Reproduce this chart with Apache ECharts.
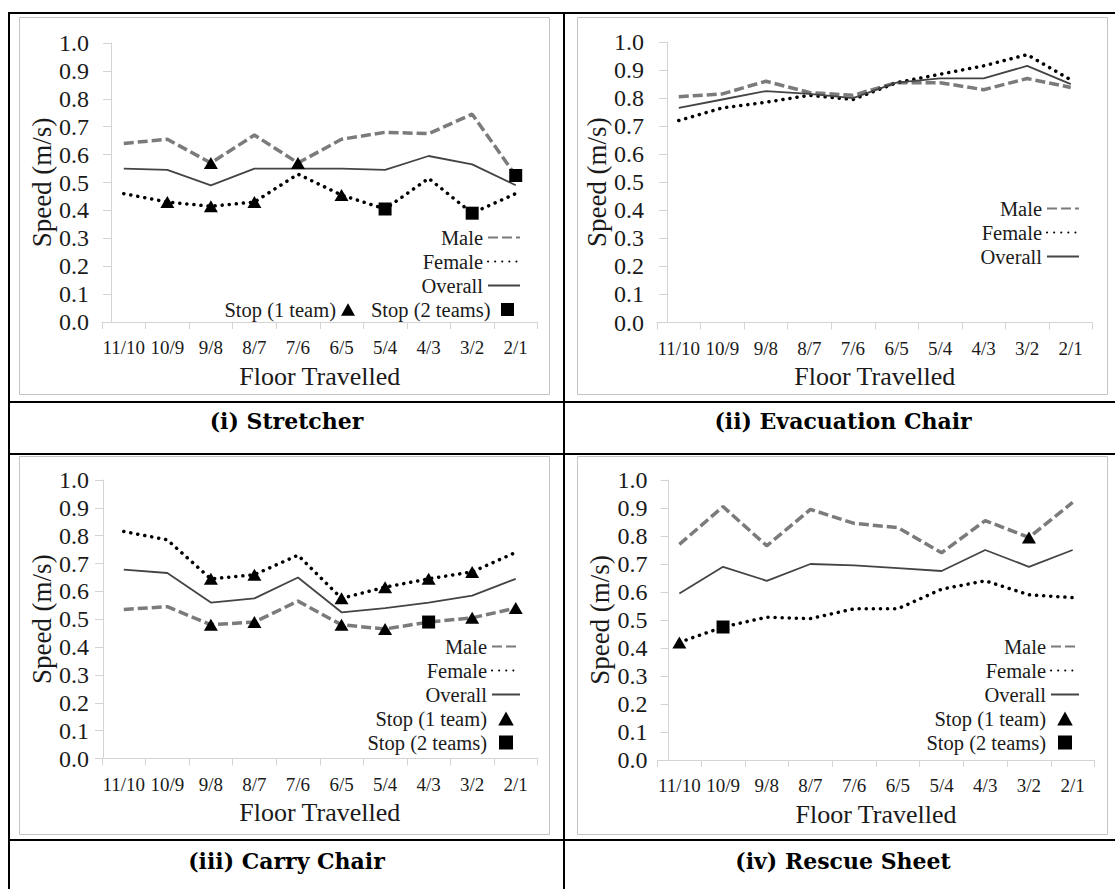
<!DOCTYPE html>
<html>
<head>
<meta charset="utf-8">
<title>Speed per floor travelled</title>
<script src="https://cdn.jsdelivr.net/npm/echarts@6.0.0/dist/echarts.min.js"></script>
<style>
  html, body { margin: 0; padding: 0; background: #fff; }
  #chart { width: 1115px; height: 889px; }
</style>
</head>
<body>
<div id="chart"></div>
<script>
// floors travelled (x categories)
const floors = ['11/10', '10/9', '9/8', '8/7', '7/6', '6/5', '5/4', '4/3', '3/2', '2/1'];

// (i) Stretcher
const stretcherMale = [0.64, 0.655, 0.57, 0.67, 0.57, 0.655, 0.68, 0.675, 0.745, 0.525];
const stretcherFemale = [0.46, 0.43, 0.415, 0.43, 0.53, 0.455, 0.405, 0.515, 0.39, 0.46];
const stretcherOverall = [0.55, 0.545, 0.49, 0.55, 0.55, 0.55, 0.545, 0.595, 0.565, 0.49];
const stretcherStop1 = [['9/8', 0.57], ['7/6', 0.57], ['10/9', 0.43], ['9/8', 0.415], ['8/7', 0.43], ['6/5', 0.455]];
const stretcherStop2 = [['5/4', 0.405], ['3/2', 0.39], ['2/1', 0.525]];

// (ii) Evacuation Chair
const evacMale = [0.805, 0.815, 0.86, 0.82, 0.81, 0.855, 0.855, 0.83, 0.87, 0.838];
const evacFemale = [0.72, 0.765, 0.785, 0.81, 0.795, 0.855, 0.885, 0.915, 0.955, 0.865];
const evacOverall = [0.765, 0.795, 0.825, 0.815, 0.8, 0.855, 0.87, 0.87, 0.915, 0.85];

// (iii) Carry Chair
const carryMale = [0.535, 0.545, 0.48, 0.49, 0.565, 0.48, 0.465, 0.49, 0.505, 0.54];
const carryFemale = [0.815, 0.785, 0.645, 0.66, 0.73, 0.575, 0.615, 0.645, 0.67, 0.74];
const carryOverall = [0.678, 0.666, 0.56, 0.575, 0.65, 0.525, 0.54, 0.56, 0.585, 0.645];
const carryStop1 = [['9/8', 0.645], ['8/7', 0.66], ['6/5', 0.575], ['5/4', 0.615], ['4/3', 0.645], ['3/2', 0.67],
                    ['9/8', 0.48], ['8/7', 0.49], ['6/5', 0.48], ['5/4', 0.465], ['3/2', 0.505], ['2/1', 0.54]];
const carryStop2 = [['4/3', 0.49]];

// (iv) Rescue Sheet
const rescueMale = [0.77, 0.905, 0.765, 0.895, 0.845, 0.83, 0.74, 0.855, 0.795, 0.92];
const rescueFemale = [0.42, 0.475, 0.51, 0.505, 0.54, 0.54, 0.61, 0.64, 0.59, 0.58];
const rescueOverall = [0.595, 0.69, 0.64, 0.7, 0.695, 0.685, 0.675, 0.75, 0.69, 0.75];
const rescueStop1 = [['11/10', 0.42], ['3/2', 0.795]];
const rescueStop2 = [['10/9', 0.475]];

const captions = ['(i) Stretcher', '(ii) Evacuation Chair', '(iii) Carry Chair', '(iv) Rescue Sheet'];

const serif = "'Liberation Serif', serif";
const txt = '#1a1a1a';
const axisGray = '#d4d4d4';
const triIcon = 'path://M5,0 L10,9 L0,9 Z';
const sqIcon = 'path://M0,0 L10,0 L10,10 L0,10 Z';

// plot rectangles of the four panels
const grids = [
  { left: 102, top: 43, width: 435.5, height: 279 },
  { left: 657, top: 42, width: 435.5, height: 280.5 },
  { left: 102, top: 480, width: 435.5, height: 278.5 },
  { left: 657.5, top: 480, width: 437, height: 280 }
];
// y axis shift inside the plot, label margin, title gap
const yLayout = [
  { offset: -9, margin: 22, gap: 52 },
  { offset: -10, margin: 23, gap: 53 },
  { offset: -1, margin: 14, gap: 44 },
  { offset: -11, margin: 21, gap: 53 }
];

const xAxes = grids.map((g, i) => ({
  gridIndex: i,
  type: 'category',
  data: floors,
  boundaryGap: true,
  axisLine: { show: true, lineStyle: { color: axisGray, width: 1 } },
  axisTick: { show: true, length: 7, alignWithLabel: false, lineStyle: { color: axisGray } },
  axisLabel: { interval: 0, fontSize: 19, fontFamily: serif, color: txt, margin: 16 },
  splitLine: { show: false },
  name: 'Floor Travelled',
  nameLocation: 'middle',
  nameGap: 41,
  nameTextStyle: { fontSize: 26, fontFamily: serif, color: txt }
}));

const yAxes = grids.map((g, i) => ({
  gridIndex: i,
  type: 'value',
  min: 0,
  max: 1,
  interval: 0.1,
  offset: yLayout[i].offset,
  axisLine: { show: true, lineStyle: { color: axisGray, width: 1 } },
  axisTick: { show: true, length: 8, lineStyle: { color: axisGray } },
  splitLine: { show: false },
  axisLabel: { formatter: v => v.toFixed(1), fontSize: 24, fontFamily: serif, color: txt, margin: yLayout[i].margin },
  name: 'Speed (m/s)',
  nameLocation: 'middle',
  nameRotate: 90,
  nameGap: yLayout[i].gap,
  nameTextStyle: { fontSize: 27, fontFamily: serif, color: txt }
}));

function lines(i, male, female, overall) {
  return [
    { name: 'Male', type: 'line', xAxisIndex: i, yAxisIndex: i, data: male, symbol: 'none', silent: true,
      lineStyle: { color: '#7b7b7b', width: 3.5, type: [10, 4] }, itemStyle: { color: '#7b7b7b' }, z: 2 },
    { name: 'Female', type: 'line', xAxisIndex: i, yAxisIndex: i, data: female, symbol: 'none', silent: true,
      lineStyle: { color: '#000', width: 3.5, type: [0.1, 7], cap: 'round' }, itemStyle: { color: '#000' }, z: 2 },
    { name: 'Overall', type: 'line', xAxisIndex: i, yAxisIndex: i, data: overall, symbol: 'none', silent: true,
      lineStyle: { color: '#444', width: 1.8 }, itemStyle: { color: '#444' }, z: 2 }
  ];
}
function stops(i, one, two) {
  return [
    { name: 'Stop (1 team)', type: 'scatter', xAxisIndex: i, yAxisIndex: i, data: one,
      symbol: 'triangle', symbolSize: [14, 12], itemStyle: { color: '#000', opacity: 1 }, z: 5 },
    { name: 'Stop (2 teams)', type: 'scatter', xAxisIndex: i, yAxisIndex: i, data: two,
      symbol: 'rect', symbolSize: 13, itemStyle: { color: '#000', opacity: 1 }, z: 5 }
  ];
}

const series = [].concat(
  lines(0, stretcherMale, stretcherFemale, stretcherOverall), stops(0, stretcherStop1, stretcherStop2),
  lines(1, evacMale, evacFemale, evacOverall),
  lines(2, carryMale, carryFemale, carryOverall), stops(2, carryStop1, carryStop2),
  lines(3, rescueMale, rescueFemale, rescueOverall), stops(3, rescueStop1, rescueStop2)
);

// legend: hide the marker a line icon gets by default, keep the line
const noMarker = { color: 'rgba(0,0,0,0)', borderColor: 'rgba(0,0,0,0)', borderWidth: 0, opacity: 0 };
const legendText = { fontSize: 20.5, fontFamily: serif, color: txt, lineHeight: 20 };
const lineItems = ['Male', 'Female', 'Overall'].map(n => ({ name: n, itemStyle: noMarker }));
const stop1Item = { name: 'Stop (1 team)', icon: triIcon };
const stop2Item = { name: 'Stop (2 teams)', icon: sqIcon };
const legendBase = { orient: 'vertical', align: 'right', padding: 0, itemGap: 3, itemHeight: 14,
  selectedMode: false, textStyle: legendText };

const legends = [
  Object.assign({}, legendBase, { right: 594, top: 227, itemWidth: 32, data: lineItems }),
  // stretcher: both stop keys share one row
  Object.assign({}, legendBase, { right: 760, top: 299, itemWidth: 14, data: [stop1Item] }),
  Object.assign({}, legendBase, { right: 601, top: 299, itemWidth: 24, itemHeight: 13, data: [stop2Item] }),
  Object.assign({}, legendBase, { right: 35, top: 198, itemWidth: 32, data: lineItems }),
  Object.assign({}, legendBase, { right: 594, top: 636, itemWidth: 28, data: lineItems.concat([stop1Item, stop2Item]) }),
  Object.assign({}, legendBase, { right: 35, top: 636, itemWidth: 28, data: lineItems.concat([stop1Item, stop2Item]) })
];

// table frame and caption cells
const black = { fill: '#000' };
const frame = [
  { type: 'rect', shape: { x: 8, y: 12, width: 1107, height: 2 }, style: black },
  { type: 'rect', shape: { x: 8, y: 12, width: 2, height: 877 }, style: black },
  { type: 'rect', shape: { x: 563, y: 12, width: 2, height: 877 }, style: black },
  { type: 'rect', shape: { x: 8, y: 401, width: 1107, height: 2 }, style: black },
  { type: 'rect', shape: { x: 8, y: 453, width: 1107, height: 2 }, style: black },
  { type: 'rect', shape: { x: 8, y: 839, width: 1107, height: 2 }, style: black }
];
const boxes = [[19.5, 17.5, 530, 377], [577.5, 17.5, 530, 377], [19.5, 456.5, 530, 378], [577.5, 456.5, 530, 378]]
  .map(b => ({ type: 'rect', z: -1, shape: { x: b[0], y: b[1], width: b[2], height: b[3] },
    style: { fill: '#fff', stroke: '#c4c4c4', lineWidth: 1 } }));
const capPos = [[286.5, 421], [843, 421], [286.5, 861], [843, 861]];
const capText = captions.map((c, i) => ({
  type: 'text', x: capPos[i][0], y: capPos[i][1],
  style: { text: c, align: 'center', verticalAlign: 'middle', fill: '#000',
    font: "bold 22px 'DejaVu Serif', serif" }
}));

const chart = echarts.init(document.getElementById('chart'), null, { renderer: 'svg' });
chart.setOption({
  backgroundColor: '#fff',
  animation: false,
  grid: grids.map(g => Object.assign({ containLabel: false }, g)),
  xAxis: xAxes,
  yAxis: yAxes,
  legend: legends,
  graphic: boxes.concat(frame, capText),
  series: series
});
</script>
</body>
</html>
